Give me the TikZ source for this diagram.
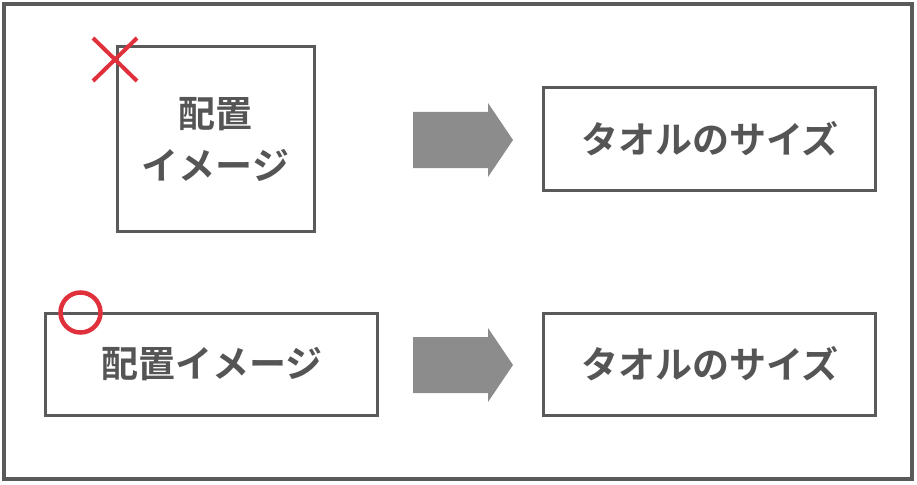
\documentclass[tikz,border=0pt]{standalone}
\usepackage{fontspec}
\setmainfont{Noto Sans CJK JP}[BoldFont={Noto Sans CJK JP Bold}]
\definecolor{linegray}{HTML}{5A5A5A}
\definecolor{textgray}{HTML}{555555}
\definecolor{arrowgray}{HTML}{8C8C8C}
\definecolor{markred}{HTML}{E0303C}
\begin{document}
\begin{tikzpicture}[x=1pt,y=-1pt,
  boxst/.style={draw=linegray,line width=3pt,fill=white},
  labelst/.style={text=textgray,font=\fontsize{37}{52}\selectfont\bfseries,align=center},
  arrowst/.style={fill=arrowgray,draw=none}]
\useasboundingbox (0,0) rectangle (917,484);
\draw[draw=linegray,line width=3.5pt] (4,4) rectangle (912,479);
% boxes
\draw[boxst] (117,47) rectangle (314,231);
\node[labelst] (t1) at (215.5,139) {配置\\イメージ};
\draw[boxst] (45,313) rectangle (377,415);
\node[labelst] (t2) at (212,364) {配置イメージ};
\draw[boxst] (543,88) rectangle (875,190);
\node[labelst] (t3) at (710,139) {タオルのサイズ};
\draw[boxst] (543,313) rectangle (875,415);
\node[labelst] (t4) at (710,364) {タオルのサイズ};
% arrows
\fill[arrowst] (413,112) -- (488,112) -- (488,103) -- (513,140) -- (488,177) -- (488,168) -- (413,168) -- cycle;
\fill[arrowst] (413,337) -- (488,337) -- (488,328) -- (513,365) -- (488,402) -- (488,393) -- (413,393) -- cycle;
% marks
\draw[markred,line width=4pt] (93,38) -- (137,81) (93,81) -- (137,38);
\draw[markred,line width=4.5pt] (80.5,312.5) circle (20);
\end{tikzpicture}
\end{document}
